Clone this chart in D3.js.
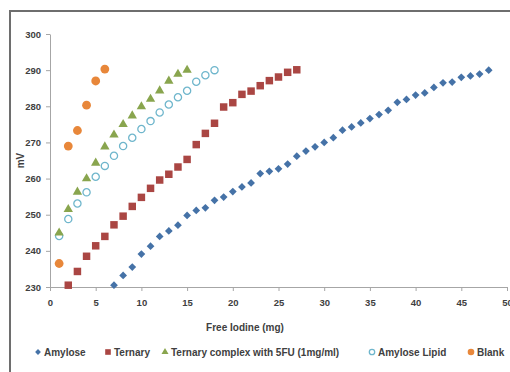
<!DOCTYPE html>
<html>
<head>
<meta charset="utf-8">
<script src="https://cdn.jsdelivr.net/npm/d3@7"></script>
<style>
  body { margin: 0; background: #fff; }
  svg { display: block; font-family: "Liberation Sans", Arial, sans-serif; }
  .axis path, .axis line { stroke: #a6a6a6; }
  .axis text { fill: #404040; font-size: 9.5px; }
</style>
</head>
<body>
<div id="chart"></div>
<script>
// Free iodine (mg) vs potential (mV)
const amyloseX = d3.range(7, 49);
const amyloseY = [230.5, 233.2, 235.5, 239.1, 241.3, 244, 245.5, 247.1, 249.8, 251.2,
  251.9, 254, 254.9, 256.4, 257.7, 258.8, 261.4, 262, 262.7, 264,
  266.2, 267.6, 268.8, 270, 271.3, 273.4, 274.3, 275.4, 276.6, 277.7,
  278.9, 281.1, 281.9, 283.1, 283.7, 285.2, 286.5, 286.7, 288, 288.4,
  288.9, 290];
const ternaryX = d3.range(2, 28);
const ternaryY = [230.5, 234.3, 238.5, 241.4, 244, 247.2, 249.6, 252.3, 254.8, 257.3,
  259.6, 261.2, 263.2, 265.3, 269.4, 272.5, 275.3, 279.8, 281, 283.3,
  284.2, 285.7, 287.1, 288.1, 289.4, 290.1];
const ternary5fuX = d3.range(1, 16);
const ternary5fuY = [245, 251.5, 256.3, 260, 264.3, 268.8, 272.1, 275, 277.4, 279.9,
  282, 284.3, 287, 288.9, 290];
const lipidX = d3.range(1, 19);
const lipidY = [244.1, 248.8, 253.1, 256.2, 260.5, 263.5, 266.3, 269, 271.3, 273.7,
  275.9, 278.3, 280.5, 282.5, 284.3, 286.8, 288.6, 290];
const blankX = [1, 2, 3, 4, 5, 6];
const blankY = [236.5, 269, 273.3, 280.3, 287, 290.3];

const xTicks = [0, 5, 10, 15, 20, 25, 30, 35, 40, 45, 50];
const yTicks = [230, 240, 250, 260, 270, 280, 290, 300];

const series = [
  { label: 'Amylose', xs: amyloseX, ys: amyloseY, shape: 'diamond', color: '#4572a7' },
  { label: 'Ternary', xs: ternaryX, ys: ternaryY, shape: 'square', color: '#aa4643' },
  { label: 'Ternary complex with 5FU (1mg/ml)', xs: ternary5fuX, ys: ternary5fuY, shape: 'triangle', color: '#89a54e' },
  { label: 'Amylose Lipid', xs: lipidX, ys: lipidY, shape: 'ring', color: '#6fb6cc' },
  { label: 'Blank', xs: blankX, ys: blankY, shape: 'circle', color: '#e8873a' }
];

const width = 510, height = 372;
const margin = {top: 34, right: 3, bottom: 85, left: 50};

const svg = d3.select('#chart').append('svg')
  .attr('width', width)
  .attr('height', height);

// outer chart frame (runs off the right/bottom edge)
svg.append('rect')
  .attr('x', 10).attr('y', 11)
  .attr('width', 540).attr('height', 400)
  .attr('fill', 'none')
  .attr('stroke', '#6e6e6e')
  .attr('stroke-width', 2);

const xScale = d3.scaleLinear()
  .domain([0, 50])
  .range([margin.left, width - margin.right]);

const yScale = d3.scaleLinear()
  .domain([230, 300])
  .range([height - margin.bottom, margin.top]);

svg.append('g')
  .attr('class', 'x axis')
  .attr('transform', 'translate(0,' + yScale(230) + ')')
  .call(d3.axisBottom(xScale).tickValues(xTicks).tickSize(4).tickSizeOuter(0).tickPadding(8))
  .call(g => g.selectAll('text').style('font-weight', 'bold'));

svg.append('g')
  .attr('class', 'y axis')
  .attr('transform', 'translate(' + xScale(0) + ',0)')
  .call(d3.axisLeft(yScale).tickValues(yTicks).tickSize(4).tickSizeOuter(0).tickPadding(5))
  .call(g => g.selectAll('text').style('font-weight', 'bold'));

svg.append('text')
  .attr('x', 245)
  .attr('y', 331)
  .attr('text-anchor', 'middle')
  .attr('fill', '#404040')
  .style('font-size', '10px')
  .style('font-weight', 'bold')
  .text('Free Iodine (mg)');

svg.append('text')
  .attr('transform', 'translate(24,' + yScale(265) + ') rotate(-90)')
  .attr('text-anchor', 'middle')
  .attr('fill', '#404040')
  .style('font-size', '10px')
  .style('font-weight', 'bold')
  .text('mV');

function drawMarker(sel, shape, color, scale) {
  const k = scale || 1;
  if (shape === 'diamond') {
    sel.append('path')
      .attr('d', d3.symbol(d3.symbolSquare, 30 * k * k)())
      .attr('transform', 'rotate(45)')
      .attr('fill', color);
  } else if (shape === 'square') {
    sel.append('path').attr('d', d3.symbol(d3.symbolSquare, 56 * k * k)()).attr('fill', color);
  } else if (shape === 'triangle') {
    sel.append('path').attr('d', d3.symbol(d3.symbolTriangle, 38 * k * k)()).attr('fill', color);
  } else if (shape === 'ring') {
    sel.append('circle').attr('r', 3.6 * k).attr('fill', '#fff')
      .attr('stroke', color).attr('stroke-width', 1.3);
  } else {
    sel.append('circle').attr('r', 4.4 * k).attr('fill', color);
  }
}

// draw in reverse so the earlier series sit on top like the original
series.slice().reverse().forEach(s => {
  const pts = s.xs.map((x, i) => ({x, y: s.ys[i]}));
  const g = svg.append('g').attr('class', 'series');
  g.selectAll('g.pt')
    .data(pts)
    .enter().append('g')
    .attr('class', 'pt')
    .attr('transform', d => 'translate(' + xScale(d.x) + ',' + yScale(d.y) + ')')
    .each(function() { drawMarker(d3.select(this), s.shape, s.color); });
});

// legend
const legendX = [38, 108, 165, 372, 471];
const legend = svg.append('g').attr('class', 'legend');
series.forEach((s, i) => {
  const item = legend.append('g')
    .attr('transform', 'translate(' + legendX[i] + ',352)');
  drawMarker(item, s.shape, s.color, 0.75);
  item.append('text')
    .attr('x', 6)
    .attr('y', 3.5)
    .attr('fill', '#404040')
    .style('font-size', '10px')
    .style('font-weight', 'bold')
    .text(s.label);
});
</script>
</body>
</html>
